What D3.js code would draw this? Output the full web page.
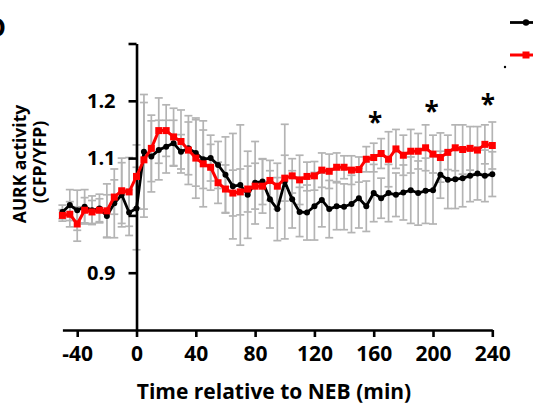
<!DOCTYPE html>
<html>
<head>
<meta charset="utf-8">
<script src="https://cdn.jsdelivr.net/npm/d3@7"></script>
<style>
	body { margin: 0; background: #fff; }
	svg text { font-family: "Open Sans", sans-serif; font-weight: 700; fill: #000; }
</style>
</head>
<body>
<div id="chart"></div>
<script>
// time relative to NEB (min)
let times = [-50, -45, -40, -35, -30, -25, -20, -15, -10, -5, 0, 5, 10, 15, 20, 25, 30, 35, 40, 45, 50, 55, 60, 65, 70, 75, 80, 85, 90, 95,
	100, 105, 110, 115, 120, 125, 130, 135, 140, 145, 150, 155, 160, 165, 170, 175, 180, 185, 190, 195, 200, 205, 210, 215, 220, 225, 230, 235, 240];

// black series (circles)
let blackValues = [1.006, 1.018, 1.009, 1.015, 1.009, 1.012, 0.999, 1.021, 1.036, 1.005, 1.012, 1.111, 1.103, 1.114, 1.120, 1.126, 1.111, 1.117, 1.109, 1.098,
	1.100, 1.088, 1.071, 1.051, 1.053, 1.036, 1.057, 1.059, 1.028, 1.011, 1.059, 1.028, 1.006, 1.005, 1.016, 1.027, 1.011, 1.016, 1.015, 1.020,
	1.030, 1.016, 1.039, 1.030, 1.039, 1.036, 1.040, 1.044, 1.039, 1.043, 1.044, 1.071, 1.062, 1.063, 1.065, 1.069, 1.073, 1.069, 1.072];
let blackErr = [0.012, 0.027, 0.035, 0.030, 0.025, 0.025, 0.037, 0.060, 0.056, 0.040, 0.072, 0.100, 0.062, 0.052, 0.046, 0.040, 0.030, 0.046, 0.058, 0.051,
	0.040, 0.041, 0.066, 0.092, 0.105, 0.076, 0.072, 0.040, 0.050, 0.055, 0.100, 0.050, 0.043, 0.048, 0.059, 0.047, 0.050, 0.041, 0.040, 0.050,
	0.052, 0.044, 0.050, 0.035, 0.050, 0.038, 0.048, 0.058, 0.056, 0.057, 0.059, 0.041, 0.050, 0.051, 0.050, 0.045, 0.046, 0.045, 0.039];

// red series (squares)
let redValues = [1.000, 1.002, 0.985, 1.009, 1.006, 1.009, 1.008, 1.032, 1.043, 1.041, 1.068, 1.097, 1.117, 1.148, 1.148, 1.137, 1.129, 1.114, 1.100, 1.090,
	1.084, 1.057, 1.046, 1.039, 1.041, 1.046, 1.051, 1.051, 1.061, 1.051, 1.065, 1.069, 1.062, 1.068, 1.069, 1.079, 1.077, 1.084, 1.084, 1.079,
	1.080, 1.098, 1.101, 1.108, 1.098, 1.116, 1.105, 1.112, 1.112, 1.118, 1.107, 1.101, 1.110, 1.118, 1.115, 1.117, 1.114, 1.124, 1.122];
let redErr = [0.010, 0.022, 0.030, 0.022, 0.020, 0.020, 0.047, 0.030, 0.057, 0.060, 0.055, 0.100, 0.058, 0.057, 0.045, 0.050, 0.055, 0.060, 0.070, 0.075,
	0.040, 0.036, 0.042, 0.040, 0.040, 0.040, 0.040, 0.047, 0.035, 0.040, 0.040, 0.030, 0.043, 0.025, 0.025, 0.030, 0.030, 0.025, 0.020, 0.025,
	0.022, 0.022, 0.025, 0.026, 0.048, 0.034, 0.035, 0.038, 0.031, 0.040, 0.033, 0.043, 0.030, 0.040, 0.043, 0.038, 0.041, 0.034, 0.041];

// axes
let xTicks		= [-40, 0, 40, 80, 120, 160, 200, 240];
let yTicks		= [0.9, 1.0, 1.1, 1.2, 1.3];
let yTickLabels	= ["0.9", "", "1.1", "1.2", ""];

// significance marks
let starTimes	= [161, 199, 237];
let starValues	= [1.170, 1.189, 1.201];

let canvasWidth		= 533;
let canvasHeight	= 405;
let margin			= { top: 43.5, left: 62.4 };
let width			= 429.9;
let height			= 286.5;

let x = d3.scaleLinear().domain([-50, 240]).range([0, width]);
let y = d3.scaleLinear().domain([0.8, 1.3]).range([height, 0]);

let root = d3.select("#chart").append("svg")
	.attr("width", canvasWidth)
	.attr("height", canvasHeight);

let svg = root.append("g")
	.attr("transform", "translate(" + margin.left + "," + margin.top + ")");

let black	= times.map((t, i) => ({ t: t, v: blackValues[i], e: blackErr[i] }));
let red		= times.map((t, i) => ({ t: t, v: redValues[i], e: redErr[i] }));

// grey error bars for both series
let errG = svg.append("g")
	.attr("stroke", "#b4b4b4")
	.attr("stroke-width", 1.7)
	.attr("fill", "none");

[black, red].forEach((series) => {
	let g = errG.append("g").selectAll("g").data(series).enter().append("g");
	g.append("line")
		.attr("x1", (d) => x(d.t)).attr("x2", (d) => x(d.t))
		.attr("y1", (d) => y(d.v + d.e)).attr("y2", (d) => y(d.v - d.e));
	g.append("line")
		.attr("x1", (d) => x(d.t) - 4).attr("x2", (d) => x(d.t) + 4)
		.attr("y1", (d) => y(d.v + d.e)).attr("y2", (d) => y(d.v + d.e));
	g.append("line")
		.attr("x1", (d) => x(d.t) - 4).attr("x2", (d) => x(d.t) + 4)
		.attr("y1", (d) => y(d.v - d.e)).attr("y2", (d) => y(d.v - d.e));
});

// axes
svg.append("g")
	.attr("class", "x axis")
	.attr("transform", "translate(0," + height + ")")
	.call(d3.axisBottom(x).tickValues(xTicks).tickFormat((d) => String(d)).tickSize(7).tickSizeOuter(0).tickPadding(9))
	.call((g) => g.selectAll("path, line").attr("stroke", "#000").attr("stroke-width", 2.6))
	.call((g) => g.selectAll("text").attr("font-size", 21).attr("font-family", null));

svg.append("g")
	.attr("class", "y axis")
	.attr("transform", "translate(" + x(0) + ",0)")
	.call(d3.axisLeft(y).tickValues(yTicks).tickFormat((d, i) => yTickLabels[i]).tickSize(8).tickSizeOuter(0).tickPadding(13))
	.call((g) => g.selectAll("path, line").attr("stroke", "#000").attr("stroke-width", 2.6))
	.call((g) => g.selectAll("text").attr("font-size", 20).attr("font-family", null));

let line = d3.line().x((d) => x(d.t)).y((d) => y(d.v));

// black series
svg.append("path")
	.datum(black)
	.attr("d", line)
	.attr("fill", "none")
	.attr("stroke", "#000")
	.attr("stroke-width", 2.8)
	.attr("stroke-linejoin", "round");

svg.append("g").selectAll("circle")
	.data(black).enter()
	.append("circle")
		.attr("cx", (d) => x(d.t))
		.attr("cy", (d) => y(d.v))
		.attr("r", 3)
		.attr("fill", "#000");

// red series
svg.append("path")
	.datum(red)
	.attr("d", line)
	.attr("fill", "none")
	.attr("stroke", "#ff0000")
	.attr("stroke-width", 3)
	.attr("stroke-linejoin", "round");

svg.append("g").selectAll("rect")
	.data(red).enter()
	.append("rect")
		.attr("x", (d) => x(d.t) - 3.5)
		.attr("y", (d) => y(d.v) - 3.5)
		.attr("width", 7)
		.attr("height", 7)
		.attr("fill", "#ff0000");

// asterisks
svg.append("g").selectAll("text")
	.data(starTimes).enter()
	.append("text")
		.attr("x", (d) => x(d))
		.attr("y", (d, i) => y(starValues[i]) + 14)
		.attr("text-anchor", "middle")
		.attr("font-size", 26)
		.text("*");

// axis titles
root.append("text")
	.attr("x", 274)
	.attr("y", 399)
	.attr("text-anchor", "middle")
	.attr("font-size", 21)
	.text("Time relative to NEB (min)");

root.append("text")
	.attr("transform", "translate(19,164) rotate(-90)")
	.attr("text-anchor", "middle")
	.attr("dominant-baseline", "central")
	.attr("font-size", 17.5)
	.text("AURK activity");

root.append("text")
	.attr("transform", "translate(39,162) rotate(-90)")
	.attr("text-anchor", "middle")
	.attr("dominant-baseline", "central")
	.attr("font-size", 17.5)
	.text("(CFP/YFP)");

// panel letter, mostly cut off as in the source figure
root.append("text")
	.attr("x", 6)
	.attr("y", 37)
	.attr("text-anchor", "end")
	.attr("font-size", 26)
	.text("D");

// legend symbols (labels fall outside the frame)
let legend = root.append("g").attr("transform", "translate(510,0)");
legend.append("line").attr("x1", 0).attr("x2", 30).attr("y1", 22.5).attr("y2", 22.5)
	.attr("stroke", "#000").attr("stroke-width", 2.8);
legend.append("circle").attr("cx", 16).attr("cy", 22.5).attr("r", 3.2).attr("fill", "#000");
legend.append("line").attr("x1", 0).attr("x2", 30).attr("y1", 55).attr("y2", 55)
	.attr("stroke", "#ff0000").attr("stroke-width", 3);
legend.append("rect").attr("x", 12.5).attr("y", 51.5).attr("width", 7).attr("height", 7).attr("fill", "#ff0000");
legend.append("circle").attr("cx", -5).attr("cy", 67).attr("r", 1.2).attr("fill", "#000");
</script>
</body>
</html>
